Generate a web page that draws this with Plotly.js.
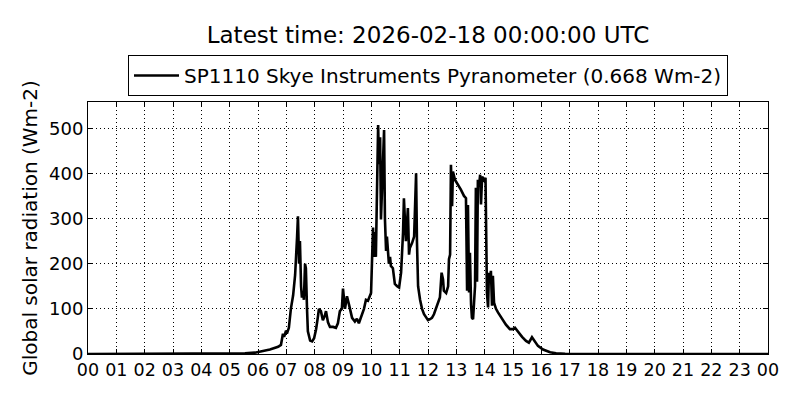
<!DOCTYPE html>
<html>
<head>
<meta charset="utf-8">
<script src="https://cdn.plot.ly/plotly-3.0.1.min.js"></script>
<style>html,body{margin:0;padding:0;background:#fff}#chart{width:800px;height:400px}</style>
</head>
<body>
<div id="chart"></div>
<script>
// Time of day in hours (UTC)
const hours = [0, 3.95, 5.01, 5.54, 5.89, 6.14, 6.42, 6.71, 6.81, 6.88, 6.92, 6.99, 7.02, 7.09, 7.16, 7.24, 7.31, 7.38, 7.41, 7.45, 7.48, 7.52, 7.55, 7.59, 7.62, 7.66, 7.69, 7.73, 7.76, 7.84, 7.91, 7.98, 8.05, 8.12, 8.15, 8.22, 8.29, 8.36, 8.40, 8.47, 8.54, 8.65, 8.75, 8.82, 8.89, 8.96, 9.00, 9.07, 9.14, 9.21, 9.32, 9.42, 9.49, 9.56, 9.67, 9.74, 9.81, 9.88, 9.99, 10.06, 10.09, 10.13, 10.16, 10.24, 10.27, 10.31, 10.34, 10.41, 10.45, 10.48, 10.52, 10.55, 10.59, 10.62, 10.66, 10.69, 10.76, 10.83, 10.91, 10.98, 11.05, 11.08, 11.12, 11.15, 11.19, 11.22, 11.26, 11.29, 11.33, 11.36, 11.44, 11.51, 11.54, 11.58, 11.61, 11.65, 11.72, 11.79, 11.86, 11.93, 12.00, 12.07, 12.14, 12.21, 12.28, 12.35, 12.42, 12.48, 12.53, 12.56, 12.64, 12.71, 12.74, 12.78, 12.81, 12.85, 12.88, 12.95, 13.06, 13.16, 13.27, 13.34, 13.38, 13.41, 13.45, 13.48, 13.52, 13.55, 13.59, 13.62, 13.66, 13.69, 13.73, 13.76, 13.80, 13.84, 13.87, 13.91, 13.98, 14.03, 14.05, 14.08, 14.12, 14.15, 14.19, 14.22, 14.26, 14.29, 14.33, 14.40, 14.47, 14.61, 14.75, 14.89, 15.00, 15.07, 15.18, 15.32, 15.46, 15.56, 15.67, 15.74, 15.88, 16.06, 16.31, 16.52, 16.84, 18.07, 24.0];
// Global solar radiation (Wm-2)
const radiation = [0, 0, 0.5, 1.5, 3, 6, 10, 16, 20, 45, 38, 52, 45, 58, 100, 130, 175, 260, 305, 200, 250, 150, 125, 140, 120, 200, 190, 100, 50, 30, 28, 35, 55, 85, 100, 95, 75, 85, 95, 70, 60, 60, 58, 68, 95, 100, 145, 100, 128, 110, 80, 72, 78, 68, 90, 100, 120, 118, 135, 280, 215, 270, 215, 507, 420, 480, 298, 420, 496, 300, 228, 260, 225, 200, 215, 195, 190, 155, 150, 147, 180, 210, 270, 345, 261, 250, 290, 323, 220, 235, 246, 260, 320, 400, 250, 150, 120, 100, 88, 82, 75, 77, 80, 88, 100, 115, 125, 180, 165, 140, 135, 150, 210, 220, 419, 327, 404, 386, 375, 364, 350, 345, 140, 330, 136, 224, 110, 80, 77, 110, 150, 368, 160, 386, 370, 397, 331, 393, 385, 390, 300, 136, 103, 180, 160, 184, 107, 173, 114, 100, 92, 77, 65, 55, 55, 58, 48, 38, 29, 25, 37, 30, 18, 10, 4, 1.5, 0.5, 0, 0];
const tickHours = [0,1,2,3,4,5,6,7,8,9,10,11,12,13,14,15,16,17,18,19,20,21,22,23,24];
const tickLabels = ["00","01","02","03","04","05","06","07","08","09","10","11","12","13","14","15","16","17","18","19","20","21","22","23","00"];
const yTicks = [0,100,200,300,400,500];
const seriesName = "SP1110 Skye Instruments Pyranometer (0.668 Wm-2)";
const titleText = "Latest time: 2026-02-18 00:00:00 UTC";

const font = "DejaVu Sans, sans-serif";
const trace = {
  x: hours, y: radiation, type: "scatter", mode: "lines",
  name: seriesName, line: {color: "#000", width: 2.6}
};
const layout = {
  width: 800, height: 400,
  margin: {l: 88, r: 32, t: 102, b: 46},
  paper_bgcolor: "#fff", plot_bgcolor: "#fff",
  font: {family: font, color: "#000", size: 17},
  title: {text: titleText, font: {size: 23, family: font, color: "#000"}, x: 0.535, xanchor: "center", y: 0.9125, yanchor: "middle", yref: "container"},
  showlegend: true,
  legend: {x: 0.5, xanchor: "center", y: 1.1865, yanchor: "top", bordercolor: "#000", borderwidth: 1, bgcolor: "#fff", itemwidth: 45, font: {size: 20, family: font}},
  xaxis: {
    range: [0, 24], tickvals: tickHours, ticktext: tickLabels,
    showgrid: true, gridcolor: "#000", gridwidth: 1, griddash: "1px,3px",
    showline: true, linecolor: "#000", linewidth: 1, mirror: "ticks",
    ticks: "inside", ticklen: 5, tickcolor: "#000", zeroline: false,
    tickfont: {size: 17.5, family: font}
  },
  yaxis: {
    range: [0, 558], tickvals: yTicks,
    showgrid: true, gridcolor: "#000", gridwidth: 1, griddash: "1px,3px",
    showline: true, linecolor: "#000", linewidth: 1, mirror: "ticks",
    ticks: "inside", ticklen: 5, tickcolor: "#000", zeroline: false,
    tickfont: {size: 18, family: font},
    title: {text: "Global solar radiation (Wm-2)", font: {size: 20, family: font}, standoff: 6}
  }
};
Plotly.newPlot("chart", [trace], layout, {staticPlot: true, displayModeBar: false});
</script>
</body>
</html>
